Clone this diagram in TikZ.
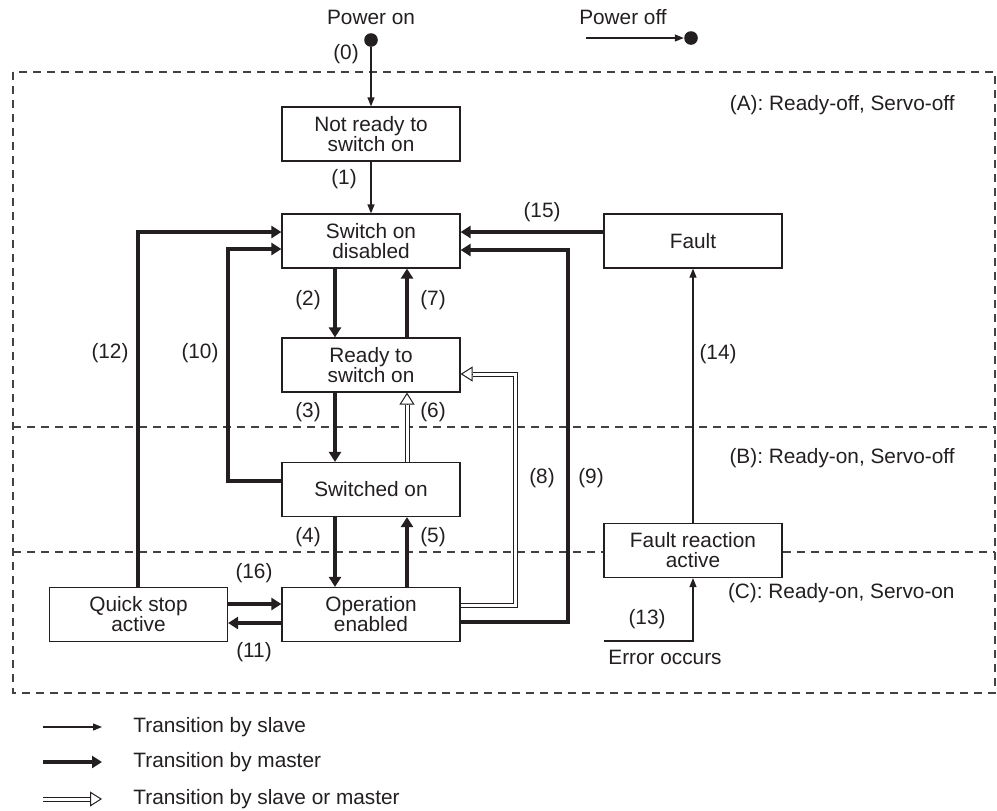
\documentclass[tikz,border=0pt]{standalone}
\usepackage{fontspec}
\setmainfont{Liberation Sans}
\usetikzlibrary{arrows.meta,calc}
\definecolor{ink}{RGB}{35,31,32}
\begin{document}
\begin{tikzpicture}[x=0.5pt,y=-0.5pt,
  every node/.style={font=\fontsize{10.4pt}{10pt}\selectfont, text=ink},
  state/.style={draw=ink, fill=white, line width=0.6pt, minimum width=89pt, minimum height=27pt, align=center, inner sep=0pt},
  dot/.style={circle, fill=ink, minimum size=6.8pt, inner sep=0pt},
  slavearr/.style={draw=ink, line width=0.6pt, -{Triangle[length=4.5pt,width=3.5pt]}},
  masterarr/.style={draw=ink, line width=1.6pt, -{Triangle[length=5pt,width=6pt]}},
  dbl/.style={draw=ink, line width=0.5pt, double=white, double distance=1.5pt, shorten >=6pt},
  openhead/.style={draw=ink, line width=0.5pt, -{Triangle[fill=white,length=6pt,width=7.5pt]}},
  zone/.style={draw=ink!85, line width=0.6pt, dash pattern=on 4pt off 3pt},
  lbl/.style={inner sep=0pt}]
\useasboundingbox (0,0) rectangle (997,810);

% zones
\draw[zone] (13,72) rectangle (995,693);
\draw[zone] (13,427) -- (995,427);
\draw[zone] (13,552) -- (995,552);
\node[anchor=east,lbl] at (955,105) {(A): Ready-off, Servo-off};
\node[anchor=east,lbl] at (955,458) {(B): Ready-on, Servo-off};
\node[anchor=east,lbl] at (955,593) {(C): Ready-on, Servo-on};

% helper x positions
\coordinate (xa) at (335,0);
\coordinate (xb) at (407,0);

% states
\node[state] (nr)  at (371,134)   {Not ready to\\switch on};
\node[state] (sod) at (371,241)   {Switch on\\disabled};
\node[state] (rts) at (371,365)   {Ready to\\switch on};
\node[state] (swo) at (371,489.5) {Switched on};
\node[state] (ope) at (371,614.5) {Operation\\enabled};
\node[state] (qsa) at (138.5,614.5) {Quick stop\\active};
\node[state] (flt) at (693,241)   {Fault};
\node[state] (fra) at (693,550.5) {Fault reaction\\active};

% power on / off
\node[lbl] (pon) at (371,17) {Power on};
\node[dot] (ondot) at (371,40) {};
\draw[slavearr] (ondot.south) -- (nr.north);
\node[lbl] at (346,54) {(0)};
\node[lbl] (poff) at (623,17) {Power off};
\coordinate (offstart) at (586,38);
\node[dot] (offdot) at (691,38) {};
\draw[slavearr] (offstart) -- (offdot.west);

% transitions
\draw[slavearr] (nr.south) -- (sod.north);
\node[lbl] at (344,179) {(1)};
\draw[masterarr] (sod.south -| xa) -- (rts.north -| xa);
\node[lbl] at (308,300) {(2)};
\draw[masterarr] (rts.north -| xb) -- (sod.south -| xb);
\node[lbl] at (433,300) {(7)};
\draw[masterarr] (rts.south -| xa) -- (swo.north -| xa);
\node[lbl] at (308,412) {(3)};
\coordinate (h6) at (407,420);
\draw[openhead] (h6) -- (rts.south -| xb);
\draw[dbl] (swo.north -| xb) -- (rts.south -| xb);
\node[lbl] at (433,412) {(6)};
\draw[masterarr] (swo.south -| xa) -- (ope.north -| xa);
\node[lbl] at (308,537) {(4)};
\draw[masterarr] (ope.north -| xb) -- (swo.south -| xb);
\node[lbl] at (433,537) {(5)};

% (10)
\coordinate (c10a) at (228,481);
\coordinate (c10b) at (228,249);
\draw[masterarr] (swo.west |- c10a) -- (c10a) -- (c10b) -- (sod.west |- c10b);
\node[lbl] at (200,353) {(10)};
% (12)
\coordinate (c12) at (138,232);
\draw[masterarr] (qsa.north -| c12) -- (c12) -- (sod.west |- c12);
\node[lbl] at (110,353) {(12)};
% (16) / (11)
\coordinate (y16) at (0,604);
\coordinate (y11) at (0,623);
\draw[masterarr] (qsa.east |- y16) -- (ope.west |- y16);
\node[lbl] at (254,573) {(16)};
\draw[masterarr] (ope.west |- y11) -- (qsa.east |- y11);
\node[lbl] at (254,652) {(11)};
% (8)
\coordinate (c8a) at (515,605);
\coordinate (c8b) at (515,374);
\coordinate (h8) at (476,374);
\draw[openhead] (h8) -- (rts.east |- c8b);
\draw[dbl] (ope.east |- c8a) -- (c8a) -- (c8b) -- (rts.east |- c8b);
\node[lbl] at (542,478) {(8)};
% (9)
\coordinate (c9a) at (568,622);
\coordinate (c9b) at (568,250);
\draw[masterarr] (ope.east |- c9a) -- (c9a) -- (c9b) -- (sod.east |- c9b);
\node[lbl] at (591,478) {(9)};
% (15)
\coordinate (y15) at (0,232);
\draw[masterarr] (flt.west |- y15) -- (sod.east |- y15);
\node[lbl] at (542,212) {(15)};
% (14)
\draw[slavearr] (fra.north) -- (flt.south);
\node[lbl] at (718,354) {(14)};
% (13)
\coordinate (err) at (604,641);
\draw[slavearr] (err) -- (fra.south |- err) -- (fra.south);
\node[lbl] at (647,619) {(13)};
\node[lbl,anchor=west] at (608,657) {Error occurs};

% legend
\coordinate (l1a) at (43,727);  \coordinate (l1b) at (102,727);
\coordinate (l2a) at (43,762);  \coordinate (l2b) at (102,762);
\coordinate (l3a) at (43,799);  \coordinate (l3b) at (102,799);
\coordinate (l3h) at (84,799);
\draw[slavearr] (l1a) -- (l1b);
\draw[masterarr] (l2a) -- (l2b);
\draw[openhead] (l3h) -- (l3b);
\draw[dbl] (l3a) -- (l3b);
\node[lbl,anchor=west] at (133,727) {Transition by slave};
\node[lbl,anchor=west] at (133,762) {Transition by master};
\node[lbl,anchor=west] at (133,799) {Transition by slave or master};
\end{tikzpicture}
\end{document}
